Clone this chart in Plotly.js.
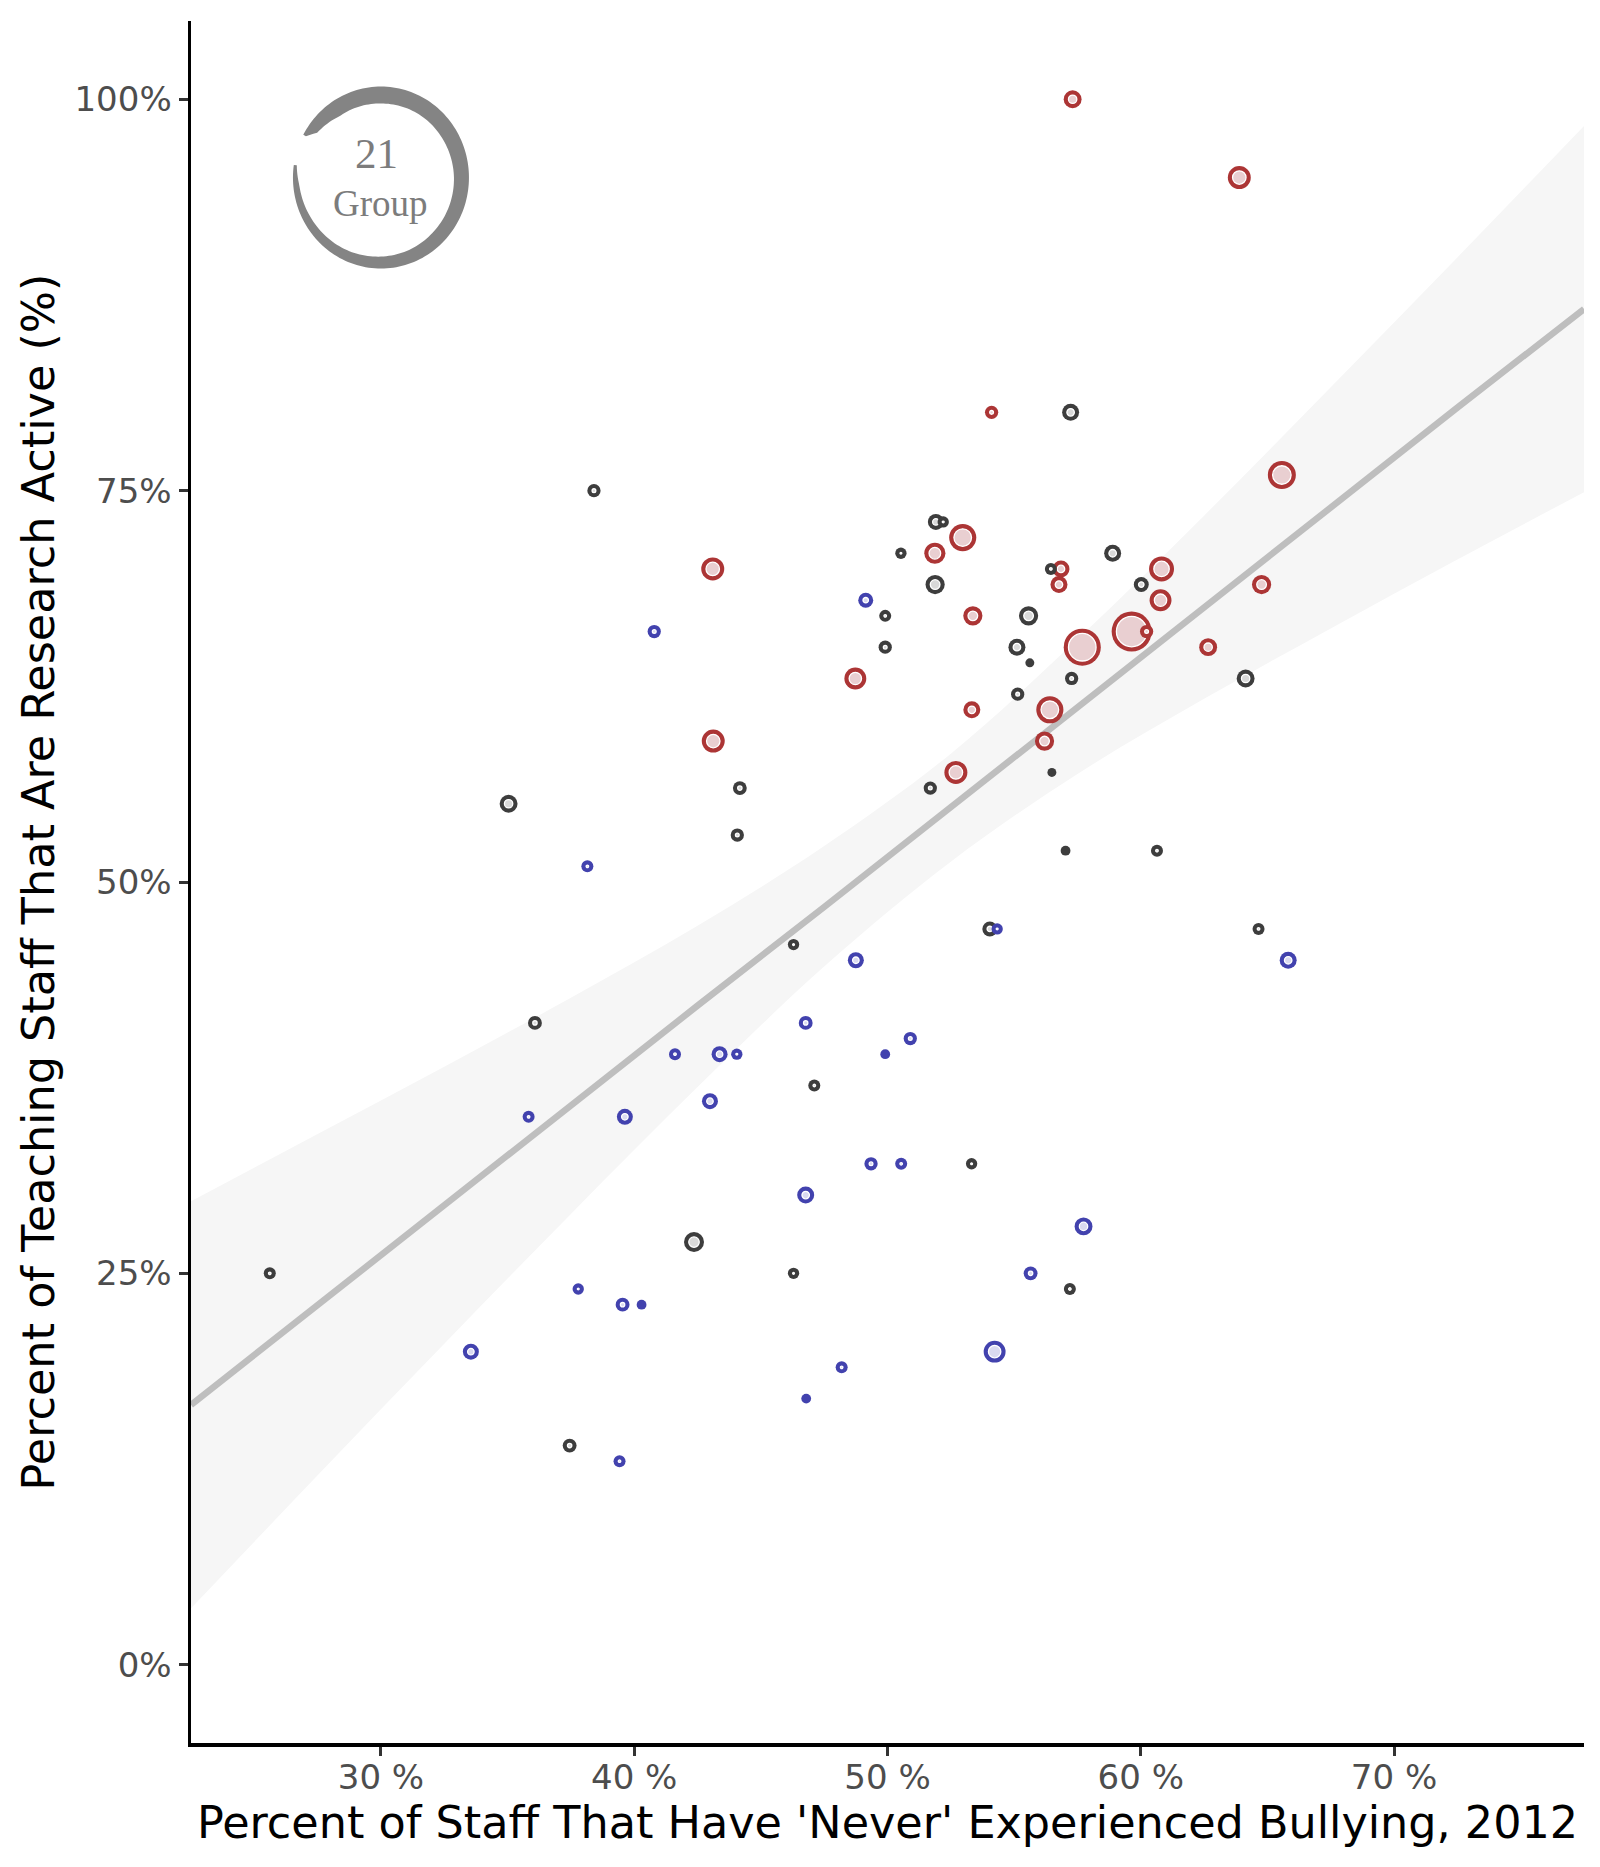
<!DOCTYPE html>
<html>
<head>
<meta charset="utf-8">
<script src="https://cdn.plot.ly/plotly-3.0.1.min.js"></script>
<style>html,body{margin:0;padding:0;background:#fff}</style>
</head>
<body>
<div id="chart" style="width:1600px;height:1867px"></div>
<script>
// ---------------- data ----------------
// x: percent of staff that have 'never' experienced bullying, 2012
const bullyingNever = [
  // red group
  57.31, 63.89, 54.11, 65.57, 43.10, 52.97, 51.87, 56.85, 56.77, 60.82, 60.78, 64.77,
  53.37, 48.73, 57.69, 59.64, 60.23, 62.66, 53.33, 56.41, 56.20, 43.12, 52.70,
  // grey group
  38.41, 57.23, 51.91, 52.20, 50.53, 58.89, 56.45, 51.88, 60.02, 49.91, 55.57, 49.91,
  55.11, 55.62, 55.14, 57.27, 64.14, 44.17, 51.69, 56.49, 35.04, 44.07, 57.03, 60.64,
  54.04, 64.65, 46.29, 36.08, 47.11, 53.32, 42.36, 25.61, 46.29, 57.20, 37.45,
  // blue group
  49.14, 40.79, 38.15, 54.33, 48.75, 65.82, 46.77, 41.61, 43.37, 44.05, 49.91, 50.90,
  35.83, 39.63, 42.99, 49.35, 50.54, 46.77, 57.74, 55.65, 37.79, 39.54, 40.29, 33.55,
  54.23, 48.19, 46.79, 39.42
];
// y: percent of teaching staff that are research active
const researchActive = [
  100, 95, 80, 76, 70, 72, 71, 70, 69, 70, 68, 69,
  67, 63, 65, 66, 66, 65, 61, 61, 59, 59, 57,
  75, 80, 73, 73, 71, 71, 70, 69, 69, 67, 67, 65,
  65, 64, 62, 63, 63, 56, 56, 57, 55, 53, 52, 52,
  47, 47, 46, 41, 37, 32, 27, 25, 25, 24, 14,
  68, 66, 51, 47, 45, 45, 41, 39, 39, 39, 39, 40,
  35, 35, 36, 32, 32, 30, 28, 25, 24, 23, 23, 20,
  20, 19, 17, 13
];
// group of each institution (colour category)
const institutionGroup = [].concat(
  Array(23).fill('red'),
  Array(35).fill('grey'),
  Array(28).fill('blue')
);
// size variable (relative magnitude, mapped to point area)
const sizeVar = [
  20, 33, 11, 49, 33, 46, 28, 18, 18, 39, 30, 23,
  23, 30, 86, 100, 11, 20, 18, 46, 23, 33, 33,
  11, 18, 16, 8, 8, 18, 9, 23, 14, 9, 23, 11,
  18, 5, 11, 11, 20, 12, 11, 5, 20, 11, 6, 9,
  14, 9, 8, 12, 9, 8, 25, 9, 8, 9, 12,
  14, 11, 9, 8, 16, 18, 12, 9, 16, 8, 6, 11,
  9, 16, 16, 11, 9, 18, 20, 12, 8, 12, 6, 16,
  30, 9, 6, 9
];
// linear smooth and its 95% band
const smoothX     = [22.5, 27.5, 32.5, 37.5, 42.5, 47.5, 52.5, 57.5, 62.5, 67.5, 72.5, 77.5];
const smoothFit   = [16.6, 23.0, 29.3, 35.7, 42.1, 48.4, 54.8, 61.2, 67.5, 73.9, 80.3, 86.6];
const smoothLower = [3.6, 12.1, 20.5, 28.8, 36.9, 44.6, 51.3, 56.9, 61.7, 66.2, 70.6, 74.9];
const smoothUpper = [29.6, 33.9, 38.2, 42.6, 47.2, 52.3, 58.2, 65.5, 73.4, 81.6, 89.9, 98.3];

const xTickVals = [30, 40, 50, 60, 70];
const xTickText = ['30 %', '40 %', '50 %', '60 %', '70 %'];
const yTickVals = [0, 25, 50, 75, 100];
const yTickText = ['0%', '25%', '50%', '75%', '100%'];
const xRange = [22.5, 77.5];
const yRange = [-5, 105];

// ---------------- styles ----------------
const ringColor = {red: '#AC3535', grey: '#3D3D3D', blue: '#4242AE'};
const fillColor = {red: '#E9CFD1', grey: '#D9D9D9', blue: '#DADAF0'};
const FONT = 'DejaVu Sans';
const sizePx = v => 4 * Math.sqrt(v);

const traces = [
  {x: smoothX, y: smoothLower, mode: 'lines', line: {width: 0, shape: 'spline', color: 'rgba(0,0,0,0)'}, hoverinfo: 'skip', showlegend: false},
  {x: smoothX, y: smoothUpper, mode: 'lines', fill: 'tonexty', fillcolor: '#F6F6F6', line: {width: 0, shape: 'spline', color: 'rgba(0,0,0,0)'}, hoverinfo: 'skip', showlegend: false},
  {x: smoothX, y: smoothFit, mode: 'lines', line: {width: 6.5, color: '#BEBEBE'}, hoverinfo: 'skip', showlegend: false}
];

// points: larger first so smaller ones sit on top
const order = bullyingNever.map((_, i) => i).sort((a, b) => sizeVar[b] - sizeVar[a]);
order.forEach(i => {
  const g = institutionGroup[i];
  const d = sizePx(sizeVar[i]);
  traces.push({
    x: [bullyingNever[i]], y: [researchActive[i]], mode: 'markers', showlegend: false, hoverinfo: 'skip',
    marker: {size: d, color: ringColor[g], line: {width: 0}}
  });
  if (d > 10.5) {
    traces.push({
      x: [bullyingNever[i]], y: [researchActive[i]], mode: 'markers', showlegend: false, hoverinfo: 'skip',
      marker: {size: d - 9.5, color: fillColor[g], line: {width: 1.3, color: '#FFFFFF'}}
    });
  }
});

// ---------------- logo ("21 Group" brush circle) ----------------
const L = 191, R = 16, T = 21, B = 124, W = 1600, H = 1867;
const pxX = (xRange[1] - xRange[0]) / (W - L - R);
const pxY = (yRange[1] - yRange[0]) / (H - T - B);
const logoCx = 30.0, logoCy = 95.0;
const thick = [[152, 3], [146, 11], [125, 16], [90, 17], [30, 16], [0, 15], [-45, 14], [-90, 12], [-120, 10], [-150, 8], [-175, 6], [-188, 3]];
function thickAt(a) {
  for (let k = 0; k < thick.length - 1; k++) {
    const [a0, t0] = thick[k], [a1, t1] = thick[k + 1];
    if (a <= a0 && a >= a1) return t0 + (t1 - t0) * (a0 - a) / (a0 - a1);
  }
  return 3;
}
const outerPts = [], innerPts = [];
for (let a = 152; a >= -188; a -= 2) {
  const r = a * Math.PI / 180;
  const rx = 88, ry = 91, t = thickAt(a);
  outerPts.push([logoCx + Math.cos(r) * rx * pxX, logoCy + Math.sin(r) * ry * pxY]);
  innerPts.push([logoCx + Math.cos(r) * (rx - t) * pxX, logoCy + Math.sin(r) * (ry - t) * pxY]);
}
let path = 'M ' + outerPts.map(p => p[0].toFixed(4) + ',' + p[1].toFixed(4)).join(' L ');
path += ' L ' + innerPts.reverse().map(p => p[0].toFixed(4) + ',' + p[1].toFixed(4)).join(' L ') + ' Z';

const axisCommon = {
  showgrid: false, zeroline: false, showline: true, linecolor: '#000000', linewidth: 3.5,
  ticks: 'outside', ticklen: 9, tickwidth: 3, tickcolor: '#333333',
  tickfont: {family: FONT, size: 34, color: '#4D4D4D'}, fixedrange: true
};

const layout = {
  width: W, height: H,
  margin: {l: L, r: R, t: T, b: B, pad: 0},
  paper_bgcolor: '#FFFFFF', plot_bgcolor: '#FFFFFF',
  showlegend: false,
  xaxis: Object.assign({}, axisCommon, {
    range: xRange, tickvals: xTickVals, ticktext: xTickText, ticklabelstandoff: -7,
    title: {text: "Percent of Staff That Have 'Never' Experienced Bullying, 2012", font: {family: FONT, size: 44.5, color: '#000000'}, standoff: 8}
  }),
  yaxis: Object.assign({}, axisCommon, {
    range: yRange, tickvals: yTickVals, ticktext: yTickText,
    title: {text: 'Percent of Teaching Staff That Are Research Active (%)', font: {family: FONT, size: 44.5, color: '#000000'}, standoff: 7}
  }),
  shapes: [{type: 'path', xref: 'x', yref: 'y', path: path, fillcolor: '#848484', line: {width: 0}, layer: 'below'}],
  annotations: [
    {x: 29.82, y: 96.56, xref: 'x', yref: 'y', text: '21', showarrow: false, font: {family: 'Liberation Serif', size: 43, color: '#7C7C7C'}, xanchor: 'center', yanchor: 'middle'},
    {x: 30.0, y: 93.37, xref: 'x', yref: 'y', text: 'Group', showarrow: false, font: {family: 'Liberation Serif', size: 37, color: '#7C7C7C'}, xanchor: 'center', yanchor: 'middle'}
  ]
};

Plotly.newPlot('chart', traces, layout, {staticPlot: true, displayModeBar: false});
</script>
</body>
</html>
